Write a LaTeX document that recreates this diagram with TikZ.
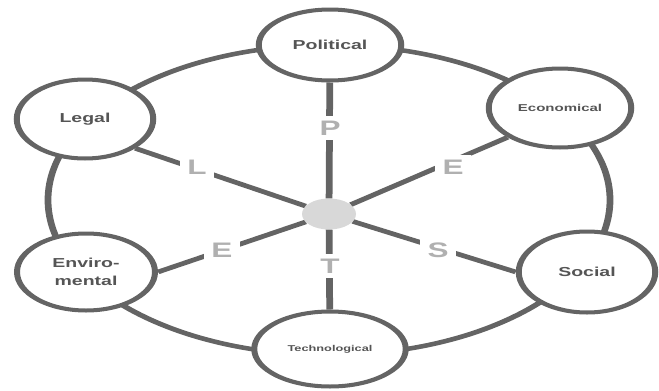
\documentclass[tikz,border=0pt]{standalone}
\usepackage{fontspec}
\setmainfont{Liberation Sans}
\usetikzlibrary{shapes.geometric}
\definecolor{linegray}{RGB}{100,100,100}
\definecolor{txtgray}{RGB}{85,85,85}
\definecolor{lettergray}{RGB}{176,176,176}
\definecolor{dotgray}{RGB}{216,216,216}
\begin{document}
\begin{tikzpicture}[x=1pt,y=-1pt]
\useasboundingbox (0,0) rectangle (659,391);
\begin{scope}[transform canvas={xscale=1.5}, x=0.666667pt, y=-1pt,
  pnode/.style={ellipse, draw=linegray, line width=4pt, fill=white, inner sep=0pt, text=txtgray, align=center},
  spoke/.style={draw=linegray, line width=4.5pt},
  ring/.style={draw=linegray, line width=4.5pt},
  letter/.style={fill=white, text=lettergray, font=\fontsize{21}{21}\selectfont\bfseries, inner sep=5pt}]
\draw[ring] (329,200) ellipse [x radius=187.33pt, y radius=155pt];
\node[pnode, minimum width=95pt, minimum height=71pt, font=\fontsize{13}{15}\selectfont\bfseries] (pol) at (330,45) {Political};
\node[pnode, minimum width=91pt, minimum height=79pt, font=\fontsize{13}{15}\selectfont\bfseries] (legal) at (85,119) {Legal};
\node[pnode, minimum width=95pt, minimum height=79pt, font=\fontsize{10}{12}\selectfont\bfseries] (eco) at (560,108) {Economical};
\node[pnode, minimum width=92pt, minimum height=77pt, font=\fontsize{13}{18}\selectfont\bfseries] (env) at (86,272) {Enviro-\\mental};
\node[pnode, minimum width=101pt, minimum height=75pt, font=\fontsize{8.5}{10}\selectfont\bfseries] (tech) at (330,349) {Technological};
\node[pnode, minimum width=91pt, minimum height=81pt, font=\fontsize{13}{15}\selectfont\bfseries] (soc) at (587,272) {Social};
\node[ellipse, fill=dotgray, minimum width=36pt, minimum height=31pt, inner sep=0pt] (dot) at (329,214) {};
\draw[spoke] (dot) -- (pol);
\draw[spoke] (dot) -- (tech);
\draw[spoke] (dot) -- (legal.south east);
\draw[spoke] (dot) -- (eco.south west);
\draw[spoke] (dot) -- (env.east);
\draw[spoke] (dot) -- (soc.west);
\node[letter] (lp) at (330,128) {P};
\node[letter] (ll) at (197,167) {L};
\node[letter] (le1) at (453,167) {E};
\node[letter] (le2) at (222,250) {E};
\node[letter] (lt) at (330,266) {T};
\node[letter] (ls) at (438,250) {S};
\end{scope}
\end{tikzpicture}
\end{document}
